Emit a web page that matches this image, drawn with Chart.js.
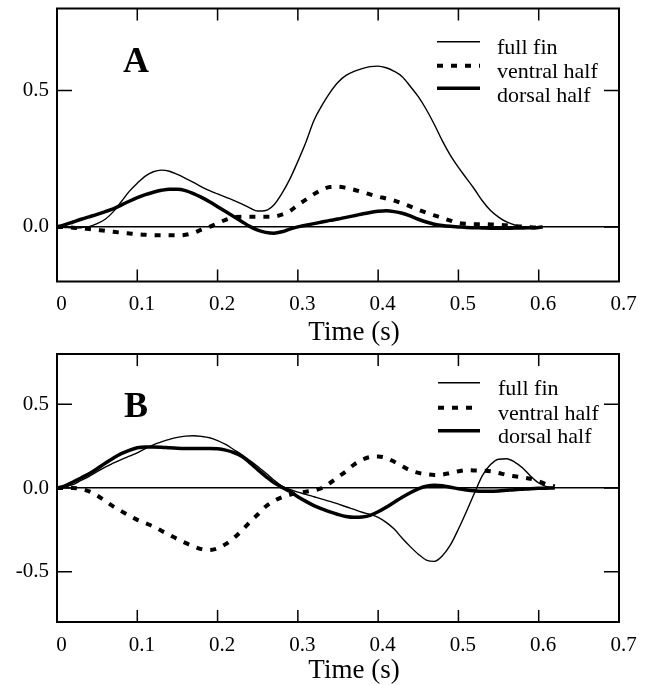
<!DOCTYPE html>
<html>
<head>
<meta charset="utf-8">
<script src="https://cdn.jsdelivr.net/npm/chart.js@4/dist/chart.umd.min.js"></script>
<style>
  html, body { margin: 0; padding: 0; background: #fff; }
  .panel { position: relative; width: 650px; }
  #wrapA { height: 348px; }
  #wrapB { height: 337px; }
</style>
</head>
<body>
<div class="panel" id="wrapA"><canvas id="chartA"></canvas></div>
<div class="panel" id="wrapB"><canvas id="chartB"></canvas></div>
<script>
// Axis ticks
const xTicks = [0, 0.1, 0.2, 0.3, 0.4, 0.5, 0.6, 0.7];
const xTickLabels = ["0", "0.1", "0.2", "0.3", "0.4", "0.5", "0.6", "0.7"];
const yTicksA = [0, 0.5];
const yTickLabelsA = ["0.0", "0.5"];
const yTicksB = [-0.5, 0, 0.5];
const yTickLabelsB = ["-0.5", "0.0", "0.5"];
const seriesNames = ["full fin", "ventral half", "dorsal half"];
const xTitle = "Time (s)";

// Panel A
const timeA = [0, 0.01, 0.02, 0.03, 0.04, 0.05, 0.06, 0.07, 0.08, 0.09,
  0.10, 0.11, 0.12, 0.13, 0.14, 0.15, 0.16, 0.17, 0.18, 0.19,
  0.20, 0.21, 0.22, 0.23, 0.24, 0.25, 0.26, 0.27, 0.28, 0.29,
  0.30, 0.31, 0.32, 0.33, 0.34, 0.35, 0.36, 0.37, 0.38, 0.39,
  0.40, 0.41, 0.42, 0.43, 0.44, 0.45, 0.46, 0.47, 0.48, 0.49,
  0.50, 0.51, 0.52, 0.53, 0.54, 0.55, 0.56, 0.57, 0.58, 0.59,
  0.60, 0.605];
const fullFinA = [0, -0.002, -0.004, -0.003, 0.001, 0.012, 0.028, 0.055, 0.092, 0.13,
  0.16, 0.186, 0.202, 0.208, 0.204, 0.192, 0.178, 0.163, 0.147, 0.133,
  0.121, 0.109, 0.097, 0.084, 0.07, 0.058, 0.06, 0.08, 0.122, 0.175,
  0.24, 0.31, 0.39, 0.445, 0.492, 0.53, 0.555, 0.57, 0.58, 0.587,
  0.589, 0.583, 0.57, 0.55, 0.515, 0.477, 0.43, 0.375, 0.315, 0.262,
  0.218, 0.178, 0.138, 0.095, 0.06, 0.036, 0.018, 0.007, 0.001, -0.001,
  -0.001, 0];
const ventralA = [0, -0.001, -0.003, -0.005, -0.008, -0.011, -0.014, -0.018, -0.021, -0.024,
  -0.027, -0.029, -0.03, -0.031, -0.031, -0.031, -0.029, -0.022, -0.01, 0.0,
  0.013, 0.026, 0.035, 0.037, 0.037, 0.037, 0.037, 0.038, 0.045, 0.058,
  0.08, 0.1, 0.12, 0.136, 0.146, 0.147, 0.143, 0.136, 0.128, 0.119,
  0.111, 0.104, 0.096, 0.086, 0.075, 0.063, 0.052, 0.042, 0.033, 0.023,
  0.014, 0.011, 0.01, 0.01, 0.009, 0.008, 0.006, 0.003, 0.001, -0.001,
  -0.003, -0.003];
const dorsalA = [0, 0.008, 0.018, 0.028, 0.037, 0.046, 0.056, 0.066, 0.08, 0.094,
  0.107, 0.118, 0.127, 0.134, 0.138, 0.138, 0.133, 0.122, 0.108, 0.092,
  0.074, 0.056, 0.038, 0.02, 0.002, -0.012, -0.02, -0.023, -0.018, -0.008,
  0.0, 0.006, 0.012, 0.018, 0.024, 0.029, 0.035, 0.041, 0.047, 0.053,
  0.057, 0.059, 0.056, 0.05, 0.04, 0.028, 0.018, 0.01, 0.005, 0.002,
  0.0, -0.002, -0.003, -0.004, -0.005, -0.005, -0.005, -0.004, -0.004, -0.003,
  -0.002, 0];

// Panel B
const timeB = [0, 0.01, 0.02, 0.03, 0.04, 0.05, 0.06, 0.07, 0.08, 0.09,
  0.10, 0.11, 0.12, 0.13, 0.14, 0.15, 0.16, 0.17, 0.18, 0.19,
  0.20, 0.21, 0.22, 0.23, 0.24, 0.25, 0.26, 0.27, 0.28, 0.29,
  0.30, 0.31, 0.32, 0.33, 0.34, 0.35, 0.36, 0.37, 0.38, 0.39,
  0.40, 0.41, 0.42, 0.43, 0.44, 0.45, 0.46, 0.47, 0.48, 0.49,
  0.50, 0.51, 0.52, 0.53, 0.54, 0.55, 0.56, 0.57, 0.58, 0.59,
  0.60, 0.61, 0.62];
const fullFinB = [0, 0.008, 0.02, 0.045, 0.07, 0.098, 0.125, 0.148, 0.17, 0.19,
  0.21, 0.235, 0.258, 0.275, 0.29, 0.302, 0.31, 0.312, 0.308, 0.3,
  0.283, 0.26, 0.23, 0.2, 0.165, 0.128, 0.09, 0.048, 0.012, -0.008,
  -0.025, -0.038, -0.052, -0.066, -0.08, -0.095, -0.112, -0.128, -0.145, -0.158,
  -0.175, -0.205, -0.245, -0.3, -0.35, -0.395, -0.43, -0.438, -0.405, -0.34,
  -0.245, -0.14, -0.03, 0.075, 0.14, 0.172, 0.175, 0.155, 0.12, 0.07,
  0.03, 0.008, 0.001];
const ventralB = [0, 0.0, 0.0, -0.006, -0.02, -0.045, -0.078, -0.11, -0.138, -0.165,
  -0.19, -0.21, -0.23, -0.255, -0.28, -0.305, -0.328, -0.348, -0.365, -0.37,
  -0.36, -0.335, -0.3, -0.255, -0.205, -0.158, -0.11, -0.078, -0.055, -0.04,
  -0.03, -0.022, -0.014, 0.0, 0.03, 0.065, 0.1, 0.14, 0.168, 0.185,
  0.188, 0.18, 0.157, 0.13, 0.105, 0.09, 0.082, 0.078, 0.08, 0.09,
  0.1, 0.106, 0.105, 0.103, 0.1, 0.09, 0.078, 0.07, 0.063, 0.055,
  0.04, 0.022, 0.01];
const dorsalB = [0, 0.012, 0.036, 0.06, 0.085, 0.115, 0.148, 0.178, 0.205, 0.225,
  0.24, 0.245, 0.245, 0.244, 0.24, 0.237, 0.236, 0.236, 0.236, 0.236,
  0.234, 0.226, 0.212, 0.19, 0.152, 0.11, 0.07, 0.032, 0.005, -0.02,
  -0.052, -0.08, -0.105, -0.125, -0.143, -0.158, -0.17, -0.175, -0.173, -0.163,
  -0.142, -0.115, -0.085, -0.055, -0.028, -0.005, 0.01, 0.016, 0.014, 0.005,
  -0.005, -0.012, -0.017, -0.02, -0.02, -0.018, -0.014, -0.01, -0.007, -0.004,
  -0.002, -0.001, 0];

const SERIF = "'Liberation Serif', 'Times New Roman', serif";

function points(xs, ys) {
  return xs.map((x, i) => ({ x: x, y: ys[i] }));
}

// box frame with inward ticks on all four sides
const framePlugin = {
  id: "frame",
  afterDatasetsDraw(chart) {
    const { ctx, chartArea: a, scales } = chart;
    ctx.save();
    ctx.strokeStyle = "#000";
    ctx.lineWidth = 1.5;
    ctx.beginPath();
    scales.x.ticks.forEach((t) => {
      const px = scales.x.getPixelForValue(t.value);
      ctx.moveTo(px, a.bottom);
      ctx.lineTo(px, a.bottom - 12);
      ctx.moveTo(px, a.top);
      ctx.lineTo(px, a.top + 12);
    });
    scales.y.ticks.forEach((t) => {
      const py = scales.y.getPixelForValue(t.value);
      ctx.moveTo(a.left, py);
      ctx.lineTo(a.left + 15, py);
      ctx.moveTo(a.right, py);
      ctx.lineTo(a.right - 15, py);
    });
    ctx.stroke();
    ctx.lineWidth = 2;
    ctx.strokeRect(a.left, a.top, a.right - a.left, a.bottom - a.top);
    ctx.restore();
  },
};

// panel letter, axis title and the legend in the upper right
const panelLegend = {
  id: "panelLegend",
  afterDraw(chart, args, opts) {
    const ctx = chart.ctx;
    ctx.save();
    ctx.fillStyle = "#000";
    ctx.textAlign = "center";
    ctx.textBaseline = "alphabetic";
    ctx.font = "bold 36px " + SERIF;
    ctx.fillText(opts.letter, opts.letterX, opts.letterY);

    ctx.font = "27px " + SERIF;
    ctx.fillText(xTitle, opts.titleX, opts.titleY);

    ctx.font = "22px " + SERIF;
    ctx.textAlign = "left";
    chart.data.datasets.forEach((ds, i) => {
      const row = opts.rows[i];
      ctx.strokeStyle = "#000";
      ctx.lineWidth = ds.borderWidth;
      ctx.setLineDash(ds.borderDash || []);
      ctx.beginPath();
      ctx.moveTo(opts.lineX0, row[0]);
      ctx.lineTo(opts.lineX1, row[0]);
      ctx.stroke();
      ctx.fillText(ds.label, opts.textX, row[1]);
    });
    ctx.restore();
  },
};

function makePanel(canvasId, p) {
  new Chart(document.getElementById(canvasId), {
    type: "line",
    data: {
      datasets: [
        { label: seriesNames[0], data: points(p.time, p.full), borderWidth: 1.4 },
        { label: seriesNames[1], data: points(p.time, p.ventral), borderWidth: 4, borderDash: [6, 8] },
        { label: seriesNames[2], data: points(p.time, p.dorsal), borderWidth: 3.5 },
      ],
    },
    options: {
      responsive: true,
      maintainAspectRatio: false,
      animation: false,
      layout: { padding: { top: p.top, right: 31, bottom: 0, left: 0 } },
      elements: {
        point: { radius: 0 },
        line: { borderColor: "#000", cubicInterpolationMode: "monotone", borderCapStyle: "butt", fill: false },
      },
      plugins: {
        legend: { display: false },
        tooltip: { enabled: false },
        panelLegend: p.legend,
      },
      scales: {
        x: {
          type: "linear",
          min: 0,
          max: 0.7,
          afterBuildTicks: (s) => { s.ticks = xTicks.map((v) => ({ value: v })); },
          afterFit: (s) => {
            s.height = p.xAxisHeight;
            s.paddingLeft = 0;
            s.paddingRight = 0;
          },
          grid: { display: false, drawTicks: false },
          border: { display: false },
          ticks: {
            color: "#000",
            font: { family: SERIF, size: 21 },
            padding: 10.5,
            labelOffset: 4.5,
            maxRotation: 0,
            autoSkip: false,
            callback: (v, i) => xTickLabels[i],
          },
        },
        y: {
          min: p.yMin,
          max: p.yMax,
          afterBuildTicks: (s) => { s.ticks = p.yTicks.map((v) => ({ value: v })); },
          afterFit: (s) => {
            s.width = 57;
            s.paddingTop = 0;
            s.paddingBottom = 0;
          },
          grid: {
            drawTicks: false,
            color: (c) => (c.tick && c.tick.value === 0 ? "#000" : "rgba(0,0,0,0)"),
            lineWidth: 1.6,
          },
          border: { display: false },
          ticks: {
            color: "#000",
            font: { family: SERIF, size: 21 },
            padding: 8,
            callback: (v, i) => p.yLabels[i],
          },
        },
      },
    },
    plugins: [framePlugin, panelLegend],
  });
}

makePanel("chartA", {
  time: timeA, full: fullFinA, ventral: ventralA, dorsal: dorsalA,
  yMin: -0.2, yMax: 0.8, yTicks: yTicksA, yLabels: yTickLabelsA,
  top: 8.5, xAxisHeight: 66.5,
  legend: {
    letter: "A", letterX: 136, letterY: 72,
    titleX: 354, titleY: 340,
    lineX0: 437, lineX1: 480, textX: 497,
    rows: [[41.7, 54], [65.7, 78], [88.3, 101.7]],
  },
});

makePanel("chartB", {
  time: timeB, full: fullFinB, ventral: ventralB, dorsal: dorsalB,
  yMin: -0.8, yMax: 0.8, yTicks: yTicksB, yLabels: yTickLabelsB,
  top: 6, xAxisHeight: 63,
  legend: {
    letter: "B", letterX: 136, letterY: 69,
    titleX: 354, titleY: 330,
    lineX0: 438, lineX1: 480, textX: 498,
    rows: [[34.7, 47], [59.7, 72], [82.7, 95.3]],
  },
});
</script>
</body>
</html>
